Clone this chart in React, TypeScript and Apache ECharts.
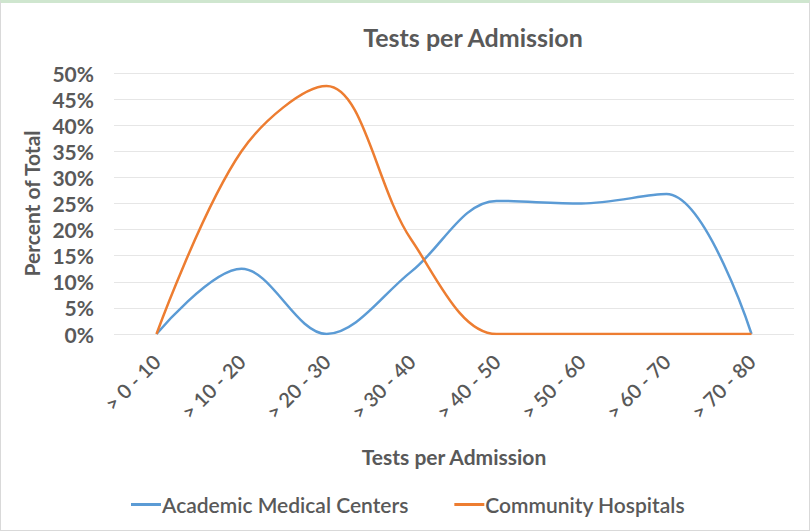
import React, { useEffect, useRef } from "react";
import * as echarts from "echarts";

const categories = ["> 0 - 10", "> 10 - 20", "> 20 - 30", "> 30 - 40", "> 40 - 50", "> 50 - 60", "> 60 - 70", "> 70 - 80"];
const academic = [0, 12.5, 0, 12, 25.5, 25, 26.8, 0];
const community = [0, 35, 47.5, 18, 0, 0, 0, 0];
const yTicks = [0, 5, 10, 15, 20, 25, 30, 35, 40, 45, 50];

const FONT = "Lato, 'Open Sans', sans-serif";
const GREY = "#595959";

export default function App() {
  const ref = useRef<HTMLDivElement>(null);
  useEffect(() => {
    const chart = echarts.init(ref.current!, undefined, { renderer: "svg" });
    chart.setOption({
      animation: false,
      backgroundColor: "#ffffff",
      title: {
        text: "Tests per Admission",
        left: 467,
        top: 16,
        textAlign: "center",
        textStyle: { fontFamily: FONT, fontSize: 25, fontWeight: "bold", color: GREY },
      },
      grid: { left: 113, right: 15, top: 70, bottom: 196, containLabel: false },
      legend: {
        bottom: 10,
        left: 125,
        icon: "rect",
        itemWidth: 30,
        itemHeight: 3,
        itemGap: 46,
        textStyle: { fontFamily: FONT, fontSize: 21, fontWeight: 600, color: GREY, padding: [0, 0, 0, -4] },
        data: ["Academic Medical Centers", "Community Hospitals"],
      },
      xAxis: {
        type: "category",
        data: categories,
        boundaryGap: true,
        name: "Tests per Admission",
        nameLocation: "middle",
        nameGap: 112,
        nameTextStyle: { fontFamily: FONT, fontSize: 21, fontWeight: "bold", color: GREY },
        axisLine: { show: false },
        axisTick: { show: false },
        axisLabel: {
          rotate: 45,
          margin: 24,
          fontFamily: FONT,
          fontSize: 20,
          fontWeight: 600,
          color: GREY,
        },
      },
      yAxis: {
        type: "value",
        min: yTicks[0],
        max: yTicks[yTicks.length - 1],
        interval: 5,
        name: "Percent of Total",
        nameLocation: "middle",
        nameGap: 71,
        nameTextStyle: { fontFamily: FONT, fontSize: 21, fontWeight: "bold", color: GREY },
        axisLine: { show: false },
        axisTick: { show: false },
        axisLabel: {
          formatter: (v: number) => `${v}%`,
          margin: 20,
          fontFamily: FONT,
          fontSize: 21,
          fontWeight: "bold",
          color: GREY,
        },
        splitLine: { lineStyle: { color: "#e6e6e6", width: 1 } },
      },
      series: [
        {
          name: "Academic Medical Centers",
          type: "line",
          data: academic,
          smooth: 0.35,
          showSymbol: false,
          symbol: "none",
          clip: true,
          lineStyle: { color: "#5B9BD5", width: 2.5 },
          itemStyle: { color: "#5B9BD5" },
        },
        {
          name: "Community Hospitals",
          type: "line",
          data: community,
          smooth: 0.35,
          showSymbol: false,
          symbol: "none",
          clip: true,
          lineStyle: { color: "#ED7D31", width: 2.5 },
          itemStyle: { color: "#ED7D31" },
        },
      ],
    });
    return () => chart.dispose();
  }, []);
  return (
    <div
      style={{
        position: "fixed",
        left: 0,
        top: 0,
        width: 810,
        height: 531,
        boxSizing: "border-box",
        borderTop: "3px solid #cfe6cf",
        borderLeft: "1px solid #d9d9d9",
        borderRight: "1px solid #d9d9d9",
        borderBottom: "1px solid #d9d9d9",
        background: "#fff",
      }}
    >
      <div ref={ref} style={{ width: 808, height: 527 }} />
    </div>
  );
}
